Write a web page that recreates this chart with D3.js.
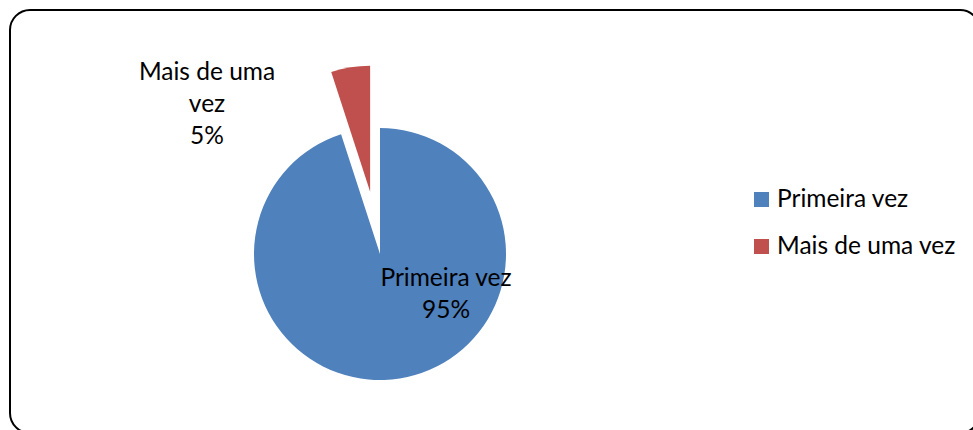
<!DOCTYPE html>
<html>
<head>
<meta charset="utf-8">
<script src="https://cdn.jsdelivr.net/npm/d3@7"></script>
<style>
  body { margin: 0; background: #fff; }
  text { font-family: Lato, "Open Sans", sans-serif; fill: #000; }
</style>
</head>
<body>
<div id="chart-area"></div>
<script>
const width = 973
const height = 430

const categories = ['Primeira vez', 'Mais de uma vez']
const values = [95, 5]
const colors = ['#4F81BD', '#C0504D']
const explode = [0, 63]

const radius = 126
const cx = 380
const cy = 254
const fontSize = 24.5

const svg = d3.select('#chart-area')
  .append('svg')
    .attr('width', width)
    .attr('height', height)

// frame, runs off the right and bottom edges
svg.append('rect')
  .attr('x', 10)
  .attr('y', 10)
  .attr('width', 970)
  .attr('height', 423)
  .attr('rx', 20)
  .attr('fill', 'none')
  .attr('stroke', '#000')
  .attr('stroke-width', 2)

const data = categories.map((c, i) => ({name: c, value: values[i], color: colors[i], off: explode[i]}))

const pie = d3.pie()
  .sort(null)
  .value(d => d.value)

const arc = d3.arc()
  .innerRadius(0)
  .outerRadius(radius)

const g = svg.append('g')
  .attr('transform', `translate(${cx},${cy})`)

const arcs = pie(data)

const offset = d => {
  const a = (d.startAngle + d.endAngle) / 2
  return [Math.sin(a) * d.data.off, -Math.cos(a) * d.data.off]
}

g.selectAll('path')
  .data(arcs)
  .enter()
  .append('path')
    .attr('d', arc)
    .attr('fill', d => d.data.color)
    .attr('transform', d => `translate(${offset(d)})`)

// data labels
const labels = [
  {lines: ['Primeira vez', '95%'], x: 446, y: 286},
  {lines: ['Mais de uma', 'vez', '5%'], x: 207, y: 80}
]

labels.forEach((l, i) => {
  const t = g.append('text')
    .attr('text-anchor', 'middle')
    .attr('font-size', fontSize + 'px')
  l.lines.forEach((line, j) => {
    t.append('tspan')
      .attr('x', l.x - cx)
      .attr('y', l.y - cy + j * 32)
      .text(j === l.lines.length - 1 ? d3.format('.0%')(arcs[i].value / d3.sum(values)) : line)
  })
})

// legend
const legend = svg.append('g')
  .attr('transform', 'translate(754,192)')

const item = legend.selectAll('g')
  .data(data)
  .enter()
  .append('g')
    .attr('transform', (d, i) => `translate(0,${i * 47})`)

item.append('rect')
  .attr('width', 15)
  .attr('height', 15)
  .attr('fill', d => d.color)

item.append('text')
  .attr('x', 23)
  .attr('y', 15)
  .attr('font-size', fontSize + 'px')
  .text(d => d.name)
</script>
</body>
</html>
